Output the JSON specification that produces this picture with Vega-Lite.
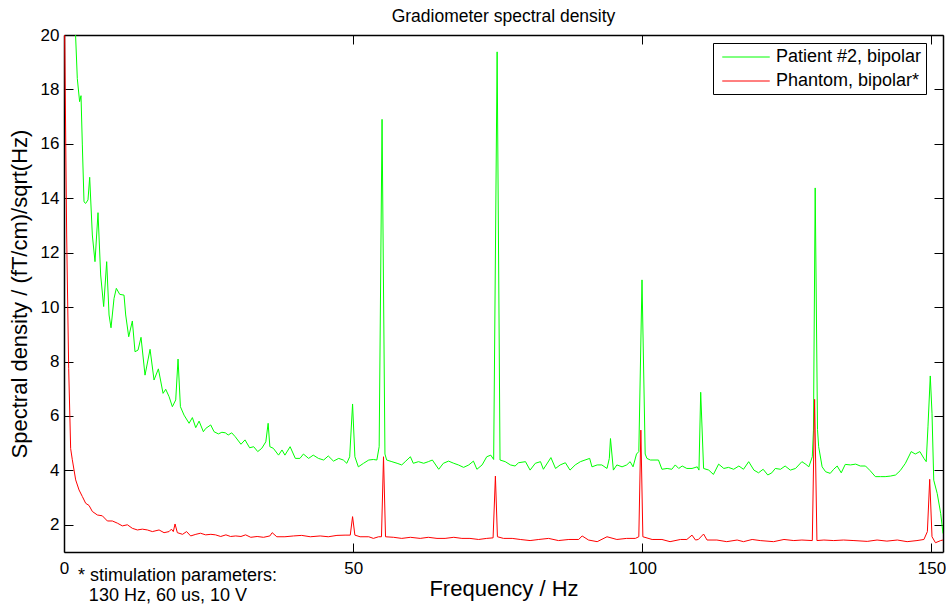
{
  "$schema": "https://vega.github.io/schema/vega-lite/v6.json",
  "width": 879,
  "height": 517,
  "autosize": {"type": "none"},
  "padding": {"left": 64, "top": 35, "right": 3, "bottom": 53},
  "background": "white",
  "title": {"text": "Gradiometer spectral density", "fontSize": 17.5, "fontWeight": "normal", "font": "Liberation Sans", "color": "black", "offset": 1},
  "datasets": {
    "patient": [
      {"f":1.6,"v":22},{"f":2.0,"v":20},{"f":2.3,"v":18.4},{"f":2.7,"v":17.55},{"f":2.94,"v":17.77},{"f":3.17,"v":15.96},{"f":3.46,"v":13.87},{"f":3.75,"v":13.81},{"f":4.15,"v":13.94},{"f":4.44,"v":14.77},{"f":4.9,"v":12.65},{"f":5.36,"v":11.67},{"f":5.88,"v":13.47},{"f":6.34,"v":11.18},{"f":6.86,"v":10.02},{"f":7.38,"v":11.67},{"f":7.79,"v":9.71},{"f":8.13,"v":9.24},{"f":8.65,"v":10.32},{"f":9.05,"v":10.69},{"f":9.63,"v":10.47},{"f":10.38,"v":10.44},{"f":10.67,"v":9.71},{"f":11.19,"v":8.91},{"f":11.82,"v":9.49},{"f":12.28,"v":8.36},{"f":12.8,"v":8.42},{"f":13.32,"v":8.89},{"f":14.01,"v":7.5},{"f":14.88,"v":8.45},{"f":15.57,"v":7.32},{"f":16.32,"v":7.73},{"f":17.13,"v":6.83},{"f":17.59,"v":6.98},{"f":18.17,"v":6.71},{"f":18.74,"v":6.34},{"f":19.32,"v":6.59},{"f":19.72,"v":8.09},{"f":20.13,"v":6.34},{"f":20.76,"v":6.03},{"f":21.63,"v":5.73},{"f":22.2,"v":5.94},{"f":22.78,"v":5.57},{"f":23.36,"v":5.81},{"f":24.1,"v":5.42},{"f":24.5,"v":5.54},{"f":25.37,"v":5.67},{"f":25.95,"v":5.42},{"f":26.7,"v":5.34},{"f":27.3,"v":5.4},{"f":27.9,"v":5.38},{"f":28.4,"v":5.3},{"f":29.0,"v":5.38},{"f":29.6,"v":5.24},{"f":30.6,"v":4.96},{"f":31.3,"v":5.12},{"f":32.1,"v":4.83},{"f":32.8,"v":4.87},{"f":33.5,"v":4.69},{"f":34.2,"v":4.81},{"f":34.9,"v":5.05},{"f":35.3,"v":5.73},{"f":35.6,"v":4.87},{"f":36.2,"v":4.81},{"f":37.1,"v":4.56},{"f":37.7,"v":4.75},{"f":38.2,"v":4.56},{"f":39.1,"v":4.87},{"f":40.0,"v":4.44},{"f":40.8,"v":4.44},{"f":41.4,"v":4.6},{"f":42.3,"v":4.44},{"f":43.1,"v":4.56},{"f":44.0,"v":4.44},{"f":44.9,"v":4.38},{"f":45.7,"v":4.53},{"f":46.6,"v":4.34},{"f":47.5,"v":4.44},{"f":48.3,"v":4.38},{"f":48.9,"v":4.26},{"f":49.4,"v":4.5},{"f":49.9,"v":6.44},{"f":50.3,"v":4.5},{"f":50.9,"v":4.13},{"f":51.8,"v":4.26},{"f":52.7,"v":4.38},{"f":53.5,"v":4.4},{"f":54.1,"v":4.38},{"f":54.5,"v":4.87},{"f":55.0,"v":16.9},{"f":55.5,"v":4.6},{"f":55.8,"v":4.38},{"f":56.7,"v":4.32},{"f":57.6,"v":4.26},{"f":58.4,"v":4.2},{"f":59.0,"v":4.32},{"f":59.9,"v":4.5},{"f":60.4,"v":4.26},{"f":61.3,"v":4.32},{"f":62.2,"v":4.26},{"f":63.0,"v":4.32},{"f":63.7,"v":4.38},{"f":64.8,"v":4.04},{"f":65.6,"v":4.26},{"f":66.5,"v":4.34},{"f":67.4,"v":4.26},{"f":68.2,"v":4.2},{"f":69.1,"v":4.11},{"f":70.0,"v":4.2},{"f":70.8,"v":4.34},{"f":71.4,"v":4.04},{"f":72.3,"v":4.2},{"f":73.1,"v":4.5},{"f":73.8,"v":4.56},{"f":74.3,"v":4.4},{"f":74.9,"v":19.38},{"f":75.4,"v":4.38},{"f":76.3,"v":4.32},{"f":77.2,"v":4.2},{"f":78.0,"v":4.16},{"f":78.6,"v":4.28},{"f":79.8,"v":4.32},{"f":80.6,"v":4.01},{"f":81.5,"v":4.26},{"f":82.4,"v":4.32},{"f":82.9,"v":4.04},{"f":84.2,"v":4.47},{"f":85.0,"v":4.07},{"f":85.8,"v":4.2},{"f":86.7,"v":4.28},{"f":87.5,"v":4.01},{"f":88.4,"v":4.2},{"f":89.3,"v":4.32},{"f":90.1,"v":4.38},{"f":90.9,"v":4.44},{"f":91.3,"v":4.13},{"f":92.2,"v":4.2},{"f":93.0,"v":4.2},{"f":93.9,"v":4.07},{"f":94.3,"v":4.44},{"f":94.5,"v":5.17},{"f":95.0,"v":4.01},{"f":95.6,"v":4.2},{"f":96.5,"v":4.13},{"f":97.3,"v":4.2},{"f":97.9,"v":4.32},{"f":98.4,"v":4.13},{"f":99.0,"v":4.6},{"f":99.4,"v":4.69},{"f":99.95,"v":11.0},{"f":100.5,"v":4.6},{"f":100.8,"v":4.44},{"f":101.4,"v":4.38},{"f":102.2,"v":4.38},{"f":102.8,"v":4.38},{"f":103.4,"v":4.04},{"f":104.3,"v":4.07},{"f":105.1,"v":4.04},{"f":105.7,"v":4.2},{"f":106.3,"v":4.07},{"f":106.9,"v":4.16},{"f":107.7,"v":4.07},{"f":108.6,"v":4.07},{"f":109.5,"v":4.13},{"f":109.8,"v":4.01},{"f":110.1,"v":6.87},{"f":110.6,"v":4.07},{"f":111.5,"v":4.01},{"f":112.3,"v":3.85},{"f":113.2,"v":4.23},{"f":114.1,"v":4.07},{"f":114.9,"v":4.11},{"f":115.8,"v":4.04},{"f":116.7,"v":4.16},{"f":117.5,"v":4.04},{"f":118.4,"v":4.32},{"f":119.3,"v":4.01},{"f":120.1,"v":3.91},{"f":120.9,"v":4.04},{"f":121.7,"v":3.83},{"f":122.4,"v":3.91},{"f":123.0,"v":4.07},{"f":123.9,"v":4.04},{"f":124.7,"v":4.16},{"f":125.6,"v":4.01},{"f":126.5,"v":4.07},{"f":127.6,"v":4.32},{"f":128.3,"v":4.22},{"f":128.8,"v":4.13},{"f":129.4,"v":4.5},{"f":129.6,"v":5.48},{"f":129.9,"v":14.38},{"f":130.3,"v":5.5},{"f":130.5,"v":4.87},{"f":131.1,"v":4.13},{"f":131.7,"v":3.95},{"f":132.5,"v":3.89},{"f":133.1,"v":4.04},{"f":133.7,"v":4.16},{"f":134.4,"v":3.91},{"f":135.1,"v":4.22},{"f":136.0,"v":4.2},{"f":136.9,"v":4.23},{"f":137.7,"v":4.16},{"f":138.6,"v":4.16},{"f":139.4,"v":3.99},{"f":140.3,"v":3.77},{"f":141.2,"v":3.77},{"f":142.0,"v":3.77},{"f":142.9,"v":3.79},{"f":143.8,"v":3.83},{"f":144.6,"v":3.99},{"f":145.5,"v":4.26},{"f":146.5,"v":4.69},{"f":147.2,"v":4.6},{"f":148.0,"v":4.69},{"f":148.7,"v":4.44},{"f":149.1,"v":4.32},{"f":149.4,"v":5.6},{"f":149.8,"v":7.47},{"f":150.1,"v":6.1},{"f":150.4,"v":3.64},{"f":151.0,"v":3.15},{"f":151.6,"v":2.42},{"f":152.0,"v":1.68}
    ],
    "phantom": [
      {"f":0.0,"v":24},{"f":0.12,"v":20},{"f":0.46,"v":12.65},{"f":0.81,"v":7.75},{"f":1.15,"v":4.8},{"f":1.44,"v":4.39},{"f":2.02,"v":3.65},{"f":2.6,"v":3.28},{"f":3.17,"v":3.04},{"f":3.75,"v":2.79},{"f":4.33,"v":2.71},{"f":4.9,"v":2.49},{"f":5.77,"v":2.36},{"f":6.63,"v":2.33},{"f":7.5,"v":2.14},{"f":8.36,"v":2.14},{"f":9.23,"v":2.06},{"f":10.09,"v":1.96},{"f":10.96,"v":2.0},{"f":11.82,"v":1.87},{"f":12.69,"v":1.81},{"f":13.55,"v":1.84},{"f":14.42,"v":1.81},{"f":15.28,"v":1.75},{"f":16.44,"v":1.81},{"f":17.3,"v":1.71},{"f":18.17,"v":1.75},{"f":18.57,"v":1.84},{"f":18.9,"v":1.75},{"f":19.2,"v":2.03},{"f":19.6,"v":1.71},{"f":20.5,"v":1.65},{"f":21.2,"v":1.75},{"f":21.9,"v":1.59},{"f":22.8,"v":1.65},{"f":23.6,"v":1.69},{"f":24.5,"v":1.63},{"f":25.4,"v":1.65},{"f":26.2,"v":1.63},{"f":27.1,"v":1.57},{"f":28.0,"v":1.63},{"f":28.8,"v":1.57},{"f":29.7,"v":1.59},{"f":30.6,"v":1.57},{"f":31.4,"v":1.63},{"f":32.3,"v":1.54},{"f":33.4,"v":1.57},{"f":34.5,"v":1.54},{"f":35.6,"v":1.59},{"f":36.0,"v":1.71},{"f":36.8,"v":1.56},{"f":38.2,"v":1.56},{"f":39.7,"v":1.59},{"f":41.1,"v":1.61},{"f":42.6,"v":1.56},{"f":44.3,"v":1.59},{"f":45.7,"v":1.56},{"f":47.2,"v":1.61},{"f":48.6,"v":1.62},{"f":49.5,"v":1.62},{"f":49.9,"v":2.3},{"f":50.3,"v":1.62},{"f":51.2,"v":1.56},{"f":52.7,"v":1.56},{"f":53.5,"v":1.5},{"f":54.4,"v":1.56},{"f":54.9,"v":1.56},{"f":55.25,"v":4.5},{"f":55.6,"v":1.56},{"f":57.0,"v":1.54},{"f":58.4,"v":1.5},{"f":59.9,"v":1.54},{"f":61.6,"v":1.5},{"f":63.0,"v":1.54},{"f":64.5,"v":1.5},{"f":65.9,"v":1.5},{"f":67.4,"v":1.54},{"f":68.8,"v":1.5},{"f":70.2,"v":1.5},{"f":71.7,"v":1.46},{"f":73.1,"v":1.5},{"f":74.2,"v":1.52},{"f":74.6,"v":3.79},{"f":74.95,"v":1.56},{"f":76.0,"v":1.5},{"f":77.5,"v":1.5},{"f":78.9,"v":1.46},{"f":80.6,"v":1.42},{"f":82.1,"v":1.46},{"f":83.8,"v":1.5},{"f":85.5,"v":1.42},{"f":87.3,"v":1.46},{"f":89.0,"v":1.46},{"f":89.6,"v":1.59},{"f":90.7,"v":1.44},{"f":92.2,"v":1.38},{"f":93.9,"v":1.56},{"f":95.6,"v":1.46},{"f":97.3,"v":1.5},{"f":98.8,"v":1.5},{"f":99.4,"v":1.56},{"f":99.75,"v":5.48},{"f":100.1,"v":1.56},{"f":101.7,"v":1.46},{"f":103.4,"v":1.46},{"f":104.8,"v":1.38},{"f":106.6,"v":1.46},{"f":107.7,"v":1.46},{"f":108.6,"v":1.62},{"f":109.2,"v":1.44},{"f":109.7,"v":1.46},{"f":110.6,"v":1.66},{"f":111.2,"v":1.44},{"f":112.9,"v":1.44},{"f":114.6,"v":1.38},{"f":116.4,"v":1.44},{"f":117.5,"v":1.38},{"f":119.0,"v":1.46},{"f":120.4,"v":1.42},{"f":122.7,"v":1.38},{"f":124.5,"v":1.46},{"f":126.2,"v":1.42},{"f":127.6,"v":1.44},{"f":129.4,"v":1.42},{"f":129.8,"v":6.61},{"f":130.2,"v":1.42},{"f":131.4,"v":1.44},{"f":133.1,"v":1.42},{"f":134.8,"v":1.44},{"f":136.6,"v":1.42},{"f":138.9,"v":1.39},{"f":140.6,"v":1.44},{"f":142.3,"v":1.4},{"f":144.1,"v":1.44},{"f":145.8,"v":1.38},{"f":147.5,"v":1.42},{"f":148.7,"v":1.46},{"f":149.3,"v":1.75},{"f":149.7,"v":3.67},{"f":150.1,"v":1.56},{"f":150.7,"v":1.34},{"f":151.6,"v":1.42},{"f":152.0,"v":1.44}
    ],
    "note1": [{"text": "* stimulation parameters:"}],
    "note2": [{"text": "130 Hz, 60 us, 10 V"}]
  },
  "layer": [
    {
      "data": {"name": "patient"},
      "mark": {"type": "line", "strokeWidth": 1, "clip": true},
      "encoding": {
        "x": {"field": "f", "type": "quantitative", "scale": {"domain": [0, 152], "nice": false, "zero": false},
              "axis": {"orient": "bottom", "values": [0, 50, 100, 150], "title": "Frequency / Hz", "labelPadding": 17, "titlePadding": 2, "labelFlush": false}},
        "y": {"field": "v", "type": "quantitative", "scale": {"domain": [1, 20], "nice": false, "zero": false},
              "axis": {"orient": "left", "values": [2, 4, 6, 8, 10, 12, 14, 16, 18, 20], "title": "Spectral density / (fT/cm)/sqrt(Hz)", "labelPadding": 14, "titlePadding": 9}},
        "color": {"datum": "Patient #2, bipolar", "type": "nominal",
                  "scale": {"domain": ["Patient #2, bipolar", "Phantom, bipolar*"], "range": ["#00ff00", "#ff0000"]},
                  "legend": {"title": null, "orient": "none", "legendX": 649, "legendY": 8}}
      }
    },
    {
      "data": {"name": "phantom"},
      "mark": {"type": "line", "strokeWidth": 1, "clip": true},
      "encoding": {
        "x": {"field": "f", "type": "quantitative", "axis": null},
        "y": {"field": "v", "type": "quantitative", "axis": null},
        "color": {"datum": "Phantom, bipolar*", "type": "nominal"}
      }
    },
    {
      "data": {"name": "phantom"},
      "mark": {"type": "line", "opacity": 0, "clip": true},
      "encoding": {
        "x": {"field": "f", "type": "quantitative", "axis": {"orient": "top", "values": [0, 50, 100, 150], "labels": false, "title": null}},
        "y": {"field": "v", "type": "quantitative", "axis": {"orient": "right", "values": [2, 4, 6, 8, 10, 12, 14, 16, 18, 20], "labels": false, "title": null}}
      }
    },
    {
      "data": {"name": "note1"},
      "mark": {"type": "text", "align": "left", "baseline": "middle", "fontSize": 18, "font": "Liberation Sans", "color": "black", "clip": false},
      "encoding": {
        "x": {"datum": 2.42, "type": "quantitative", "axis": null},
        "y": {"datum": 0.13, "type": "quantitative", "axis": null},
        "text": {"field": "text", "type": "nominal"}
      }
    },
    {
      "data": {"name": "note2"},
      "mark": {"type": "text", "align": "left", "baseline": "middle", "fontSize": 18, "font": "Liberation Sans", "color": "black", "clip": false},
      "encoding": {
        "x": {"datum": 4.3, "type": "quantitative", "axis": null},
        "y": {"datum": -0.6, "type": "quantitative", "axis": null},
        "text": {"field": "text", "type": "nominal"}
      }
    }
  ],
  "resolve": {"axis": {"x": "independent", "y": "independent"}},
  "config": {
    "font": "Liberation Sans",
    "view": {"stroke": null},
    "axis": {
      "grid": false,
      "domainColor": "black",
      "domainWidth": 1.5,
      "tickColor": "black",
      "tickWidth": 1,
      "tickSize": -9,
      "labelColor": "black",
      "labelFont": "Liberation Sans",
      "labelFontSize": 17,
      "titleFont": "Liberation Sans",
      "titleFontSize": 22,
      "titleFontWeight": "normal",
      "titleColor": "black"
    },
    "legend": {
      "strokeColor": "black",
      "fillColor": "white",
      "padding": 4,
      "symbolType": "M-2.5,0H2.5",
      "symbolSize": 361,
      "symbolStrokeWidth": 1,
      "symbolOffset": 19,
      "labelOffset": 20,
      "labelFontSize": 18,
      "labelFont": "Liberation Sans",
      "labelColor": "black",
      "rowPadding": 5
    }
  }
}
